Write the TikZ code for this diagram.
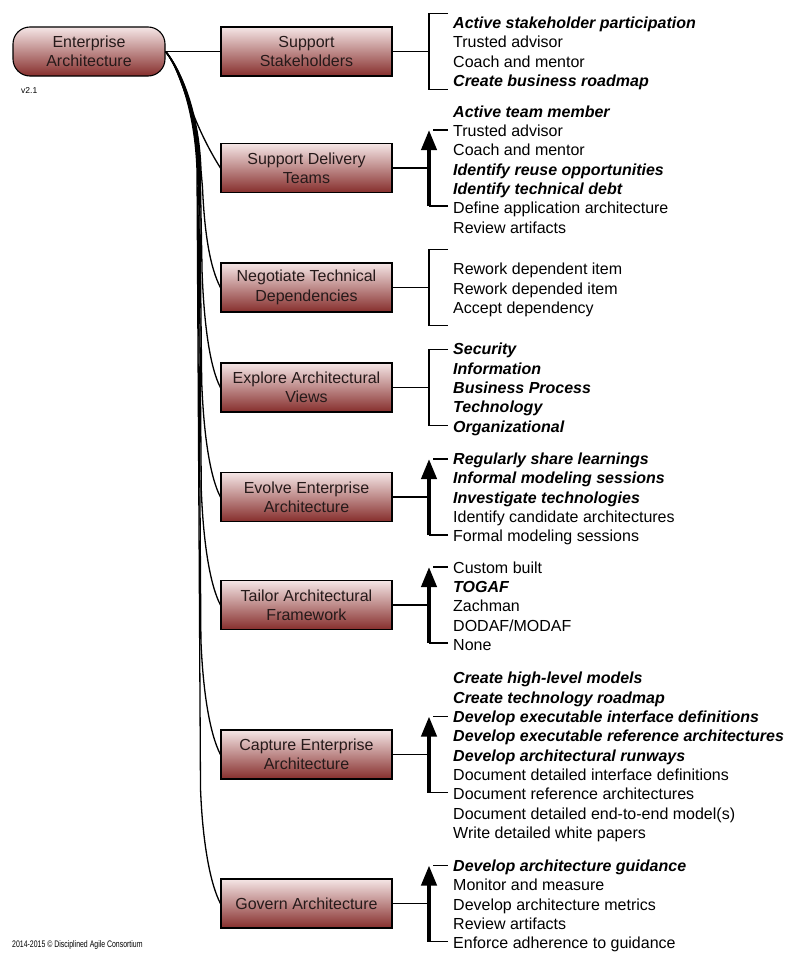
\documentclass[tikz,border=0pt]{standalone}
\usepackage{fontspec}
\setmainfont{Liberation Sans}
\usetikzlibrary{arrows.meta}
\definecolor{boxtop}{RGB}{245,230,230}
\definecolor{boxbot}{RGB}{134,46,44}
\definecolor{textdark}{RGB}{38,26,26}
\newcommand{\bfit}[1]{\textbf{\textit{#1}}}
\newcommand{\mainfs}{\fontsize{16}{19.35}\selectfont}
\tikzset{
  goal/.style={draw=black, line width=1.1pt, top color=boxtop, bottom color=boxbot,
    minimum width=171pt, minimum height=49pt, align=center, inner sep=0pt,
    font=\mainfs, text=textdark},
  rootbox/.style={goal, rounded corners=17pt, minimum width=152pt},
  items/.style={anchor=west, align=left, inner sep=0pt, font=\mainfs, text=black},
  link/.style={line width=1.3pt},
  brk/.style={line width=1.4pt},
  uparrow/.style={line width=4pt, -{Triangle[length=20pt,width=15pt]}},
  small/.style={inner sep=0pt, font=\fontsize{8.5}{10}\selectfont, text=black}
}
\begin{document}
\begin{tikzpicture}[x=1pt,y=-1pt]
\useasboundingbox (0,0) rectangle (798,966);
\fill[white] (0,0) rectangle (798,966);

% root
\node[rootbox] (root) at (89,51.5) {Enterprise\\Architecture};
\node[small, anchor=west] (ver) at (21,91) {v2.1};
\node[small, anchor=west] (copy) at (12,945) {\fontsize{9.5}{11}\selectfont\scalebox{0.73}[1]{2014-2015 © Disciplined Agile Consortium}};

% goals
\node[goal] (g1) at (306.5,51.5) {Support\\Stakeholders};
\node[goal] (g2) at (306.5,168) {Support Delivery\\Teams};
\node[goal] (g3) at (306.5,287.5) {Negotiate Technical\\Dependencies};
\node[goal] (g4) at (306.5,387.5) {Explore Architectural\\Views};
\node[goal] (g5) at (306.5,497) {Evolve Enterprise\\Architecture};
\node[goal] (g6) at (306.5,605) {Tailor Architectural\\Framework};
\node[goal] (g7) at (306.5,754.5) {Capture Enterprise\\Architecture};
\node[goal] (g8) at (306.5,903.5) {Govern Architecture};

% root connectors
\draw[link] (root.east) -- (g1.west);
\draw[link] (root.east) .. controls (181,68) and (187,115) .. (g2.west);
\foreach \g/\c/\s/\d in {g3/287.5/4/100,g4/387.5/3.2/115,g5/497/2.4/115,g6/605/1.6/115,g7/754.5/0.8/115,g8/903.5/0/115}{
  \draw[link] (root.east) .. controls (178+0.3*\s,67) and (195+\s,110) .. (197+\s,170)
     -- (200.5+0.5*\s,\c-\d) .. controls (202.5+0.5*\s,\c-0.54*\d) and (210,\c-20) .. (\g.west);
}

% bracket coordinates
\foreach \i/\c in {1/51.5,2/168,3/287.5,4/387.5,5/497,6/605,7/754.5,8/903.5}{
  \coordinate (b\i) at (429,\c);
  \coordinate (bt\i) at (429,\c-38);
  \coordinate (bb\i) at (429,\c+38);
  \coordinate (et\i) at (448,\c-38);
  \coordinate (eb\i) at (448,\c+38);
  \coordinate (ct\i) at (433,\c-38);
  \draw[link] (g\i.east) -- (b\i);
}
% plain brackets
\foreach \i in {1,3,4}{
  \draw[brk] (et\i) -- (bt\i) -- (bb\i) -- (eb\i);
}
% arrow brackets
\foreach \i in {2,5,6,7,8}{
  \draw[brk] (ct\i) -- (et\i);
  \draw[brk] (eb\i) -- (bb\i);
  \draw[uparrow] (bb\i) -- (bt\i);
}

% item lists
\node[items] (l1) at (453,53.5) {\bfit{Active stakeholder participation}\\Trusted advisor\\Coach and mentor\\\bfit{Create business roadmap}};
\node[items] (l2) at (453,169.5) {\bfit{Active team member}\\Trusted advisor\\Coach and mentor\\\bfit{Identify reuse opportunities}\\\bfit{Identify technical debt}\\Define application architecture\\Review artifacts};
\node[items] (l3) at (453,290) {Rework dependent item\\Rework depended item\\Accept dependency};
\node[items] (l4) at (453,389.5) {\bfit{Security}\\\bfit{Information}\\\bfit{Business Process}\\\bfit{Technology}\\\bfit{Organizational}};
\node[items] (l5) at (453,499) {\bfit{Regularly share learnings}\\\bfit{Informal modeling sessions}\\\bfit{Investigate technologies}\\Identify candidate architectures\\Formal modeling sessions};
\node[items] (l6) at (453,606) {Custom built\\\bfit{TOGAF}\\Zachman\\DODAF/MODAF\\None};
\node[items] (l7) at (453,757) {\bfit{Create high-level models}\\\bfit{Create technology roadmap}\\\bfit{Develop executable interface definitions}\\\bfit{Develop executable reference architectures}\\\bfit{Develop architectural runways}\\Document detailed interface definitions\\Document reference architectures\\Document detailed end-to-end model(s)\\Write detailed white papers};
\node[items] (l8) at (453,906) {\bfit{Develop architecture guidance}\\Monitor and measure\\Develop architecture metrics\\Review artifacts\\Enforce adherence to guidance};
\end{tikzpicture}
\end{document}
